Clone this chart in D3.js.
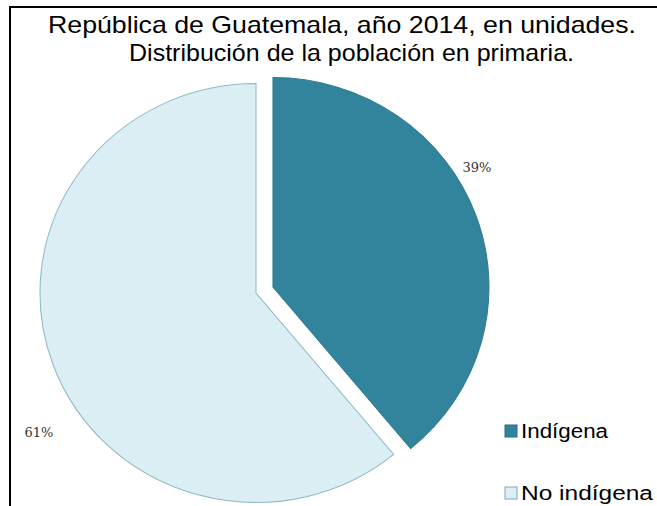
<!DOCTYPE html>
<html><head><meta charset="utf-8">
<script src="https://cdn.jsdelivr.net/npm/d3@7"></script>
<style>html,body{margin:0;padding:0;background:#fff;overflow:hidden}</style>
</head><body>
<svg id="c" width="657" height="506"></svg>
<script>
const titleLines = ["República de Guatemala, año 2014, en unidades.", "Distribución de la población en primaria."];
const categories = ["Indígena", "No indígena"];
const values = [39, 61];
const labels = ["39%", "61%"];
const colors = ["#31849B", "#DAEEF3"];
const strokes = ["#2E7C91", "#8FB8C6"];

const svg = d3.select("#c");
// frame
svg.append("line").attr("x1",10).attr("y1",7).attr("x2",657).attr("y2",7).attr("stroke","#000").attr("stroke-width",2);
svg.append("line").attr("x1",10).attr("y1",6).attr("x2",10).attr("y2",506).attr("stroke","#000").attr("stroke-width",2);

// title
const titleX = [48, 129], titleW = [588, 445];
svg.selectAll("text.title").data(titleLines).join("text")
  .attr("class","title")
  .attr("x",(d,i)=>titleX[i]).attr("y",(d,i)=>33+i*28)
  .attr("textLength",(d,i)=>titleW[i]).attr("lengthAdjust","spacingAndGlyphs")
  .attr("font-family","Liberation Sans, Arial, sans-serif")
  .attr("font-size",24).attr("fill","#000")
  .text(d=>d);

const cx = 256, cy = 293, r = 209.5, sx = 1.031, explode = 17.5;
const pie = d3.pie().sort(null).value(d=>d)(values);
const arc = d3.arc().innerRadius(0).outerRadius(r);
const g = svg.append("g").attr("transform",`translate(${cx},${cy}) scale(${sx},1)`);
g.selectAll("path").data(pie).join("path")
  .attr("d",arc)
  .attr("transform",(d,i)=>{
    if(i!==0) return null;
    const a=(d.startAngle+d.endAngle)/2;
    return `translate(${explode*Math.sin(a)},${-explode*Math.cos(a)})`;
  })
  .attr("fill",(d,i)=>colors[i]).attr("stroke",(d,i)=>strokes[i]).attr("stroke-width",1);

// data labels
const labelPos = [[477,172],[39,437]];
svg.selectAll("text.lbl").data(labels).join("text")
  .attr("class","lbl")
  .attr("x",(d,i)=>labelPos[i][0]).attr("y",(d,i)=>labelPos[i][1])
  .attr("text-anchor","middle")
  .attr("font-family","DejaVu Serif, Liberation Serif, serif")
  .attr("font-size",13).attr("fill","#333")
  .text(d=>d);

// legend
const lg = svg.append("g");
const ly = [425, 487];
const legW = [87, 132];
categories.forEach((c,i)=>{
  lg.append("rect").attr("x",505).attr("y",ly[i]).attr("width",12).attr("height",12)
    .attr("fill",colors[i]).attr("stroke", i===0?"#2A6F82":"#7FA9B8").attr("stroke-width",1);
  lg.append("text").attr("x",521).attr("y",ly[i]+13)
    .attr("textLength",legW[i]).attr("lengthAdjust","spacingAndGlyphs")
    .attr("font-family","Liberation Sans, Arial, sans-serif")
    .attr("font-size",20).attr("fill","#000").text(c);
});
</script>
</body></html>
